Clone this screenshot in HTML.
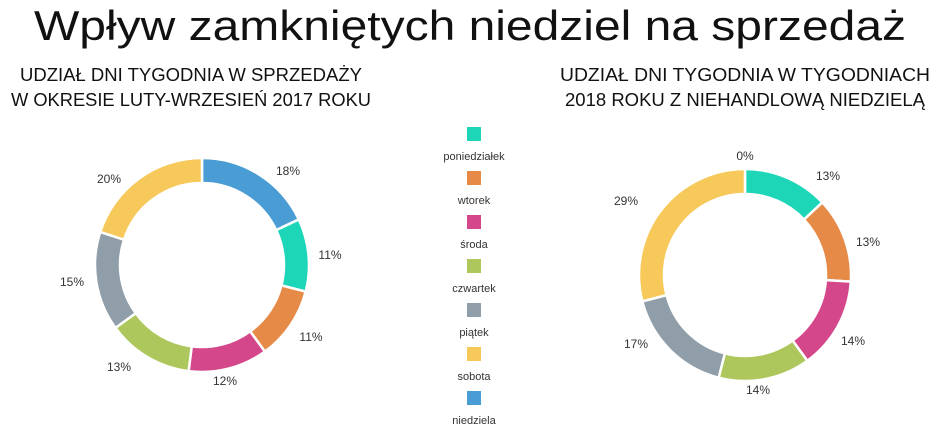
<!DOCTYPE html>
<html><head><meta charset="utf-8"><style>
body{margin:0;background:#fff;width:945px;height:435px;overflow:hidden}
text{font-family:"Liberation Sans",sans-serif}
</style></head><body>
<svg id="s" width="945" height="435" xmlns="http://www.w3.org/2000/svg">
<text x="470" y="40" text-anchor="middle" font-size="42" fill="#111" textLength="872" lengthAdjust="spacingAndGlyphs">Wpływ zamkniętych niedziel na sprzedaż</text>
<g font-size="18" fill="#111" text-anchor="middle">
<text x="191" y="81" textLength="342" lengthAdjust="spacingAndGlyphs">UDZIAŁ DNI TYGODNIA W SPRZEDAŻY</text>
<text x="191" y="106" textLength="360" lengthAdjust="spacingAndGlyphs">W OKRESIE LUTY-WRZESIEŃ 2017 ROKU</text>
<text x="745" y="81" textLength="370" lengthAdjust="spacingAndGlyphs">UDZIAŁ DNI TYGODNIA W TYGODNIACH</text>
<text x="745" y="106" textLength="360" lengthAdjust="spacingAndGlyphs">2018 ROKU Z NIEHANDLOWĄ NIEDZIELĄ</text>
</g>
<g id="d"></g>
<g font-size="12" fill="#333" text-anchor="middle">
<text x="288" y="175">18%</text><text x="330" y="259">11%</text><text x="311" y="341">11%</text>
<text x="225" y="385">12%</text><text x="119" y="371">13%</text><text x="72" y="286">15%</text><text x="109" y="183">20%</text>
<text x="745" y="160">0%</text><text x="828" y="180">13%</text><text x="868" y="246">13%</text>
<text x="853" y="345">14%</text><text x="758" y="394">14%</text><text x="636" y="348">17%</text><text x="626" y="205">29%</text>
</g>
<g font-size="11" fill="#333" text-anchor="middle">
<rect x="467" y="127" width="14" height="14" fill="#1dd6b8"/><text x="474" y="160">poniedziałek</text>
<rect x="467" y="171" width="14" height="14" fill="#e68a48"/><text x="474" y="204">wtorek</text>
<rect x="467" y="215" width="14" height="14" fill="#d5478b"/><text x="474" y="248">środa</text>
<rect x="467" y="259" width="14" height="14" fill="#adc75c"/><text x="474" y="292">czwartek</text>
<rect x="467" y="303" width="14" height="14" fill="#8f9ea8"/><text x="474" y="336">piątek</text>
<rect x="467" y="347" width="14" height="14" fill="#f7c85a"/><text x="474" y="380">sobota</text>
<rect x="467" y="391" width="14" height="14" fill="#4a9dd4"/><text x="474" y="424">niedziela</text>
</g>
</svg>
<script>
var C={n:"#4a9dd4",p:"#1dd6b8",w:"#e68a48",s:"#d5478b",c:"#adc75c",pi:"#8f9ea8",so:"#f7c85a"};
function donut(cx,cy,R,r,data){
 var g=document.getElementById('d'),a=0,h='';
 data.forEach(function(d){
  var a0=a*2*Math.PI/100-Math.PI/2;a+=d[0];var a1=a*2*Math.PI/100-Math.PI/2;
  if(d[0]<=0)return;
  var L=d[0]>50?1:0;
  function P(rr,t){return (cx+rr*Math.cos(t)).toFixed(2)+' '+(cy+rr*Math.sin(t)).toFixed(2)}
  h+='<path d="M'+P(R,a0)+' A'+R+' '+R+' 0 '+L+' 1 '+P(R,a1)+' L'+P(r,a1)+' A'+r+' '+r+' 0 '+L+' 0 '+P(r,a0)+'Z" fill="'+d[1]+'" stroke="#fff" stroke-width="2.5"/>';
 });
 g.innerHTML+=h;
}
donut(202,265,107,82,[[18,C.n],[11,C.p],[11,C.w],[12,C.s],[13,C.c],[15,C.pi],[20,C.so]]);
donut(745,275,106,81,[[0,C.n],[13,C.p],[13,C.w],[14,C.s],[14,C.c],[17,C.pi],[29,C.so]]);
</script>
</body></html>
